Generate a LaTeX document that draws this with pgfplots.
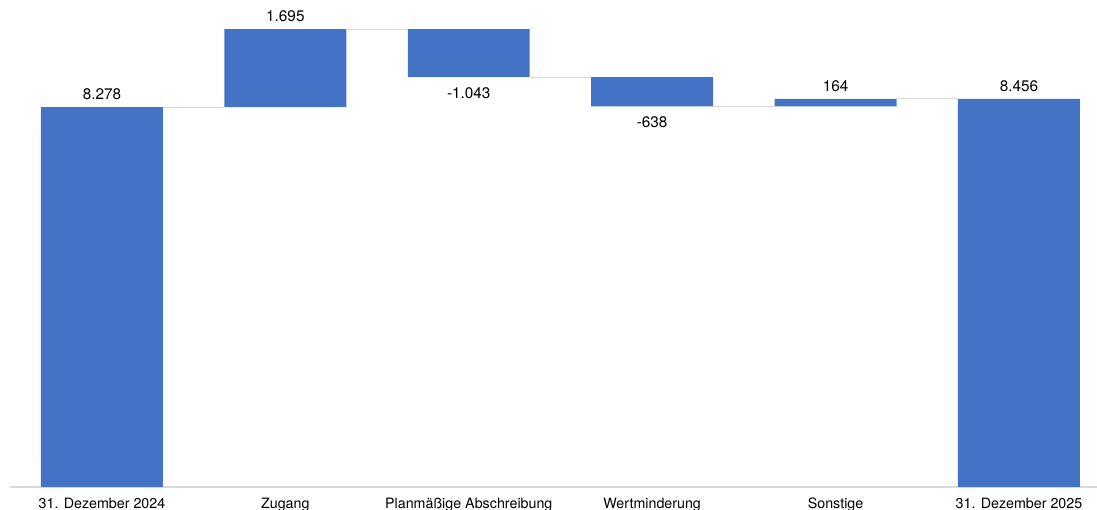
\documentclass[border=0pt]{standalone}
\usepackage{pgfplots}
\usepackage{pgfplotstable}
\pgfplotsset{compat=1.18}
\usepackage{fontspec}
\setmainfont{TeX Gyre Heros}

\definecolor{barblue}{HTML}{4472C4}
\definecolor{linegray}{HTML}{D9D9D9}

% waterfall: invisible base + visible step
\pgfplotstableread{
x base delta
0 0    8278
1 8278 1695
2 8930 1043
3 8292 638
4 8292 164
5 0    8456
}\bars

% running totals between neighbouring bars
\pgfplotstableread{
x y
0.3325 8278
0.6675 8278
nan nan
1.3325 9973
1.6675 9973
nan nan
2.3325 8930
2.6675 8930
nan nan
3.3325 8292
3.6675 8292
nan nan
4.3325 8456
4.6675 8456
}\connectors

% labels above the bar top
\pgfplotstableread{
x y lab
0 8278 8.278
1 9973 1.695
4 8456 164
5 8456 8.456
}\labup

% labels below the bar bottom
\pgfplotstableread{
x y lab
2 8930 -1.043
3 8292 -638
}\labdown

\begin{document}
\begin{tikzpicture}
\path[use as bounding box] (0,0) rectangle (822.75pt,382.5pt);
\begin{axis}[
  at={(7.7pt,17.25pt)}, anchor=south west,
  scale only axis,
  width=825.3pt, height=344.25pt,
  xmin=-0.5, xmax=5.5, ymin=0, ymax=10000,
  axis x line*=bottom, axis y line=none,
  x axis line style={-, draw=linegray, line width=0.8pt},
  major tick length=0pt,
  xtick={0,1,2,3,4,5},
  xticklabels={31. Dezember 2024, Zugang, Planmäßige Abschreibung, Wertminderung, Sonstige, 31. Dezember 2025},
  xticklabel style={anchor=base, yshift=-16.1pt, font=\fontsize{10.7}{12}\selectfont},
  ytick=\empty,
  clip=false,
  unbounded coords=jump,
]
\begin{scope}
\addplot[ybar stacked, bar width=0.665, draw=none, fill=none, forget plot] table[x=x, y=base] {\bars};
\addplot[ybar stacked, bar width=0.665, draw=none, fill=barblue, forget plot] table[x=x, y=delta] {\bars};
\end{scope}
\addplot[linegray, line width=0.7pt, mark=none] table[x=x, y=y] {\connectors};
\addplot[draw=none, mark=none, nodes near coords, point meta=explicit symbolic,
  every node near coord/.style={anchor=base, yshift=5.6pt, inner sep=0pt, text=black, font=\fontsize{11.5}{13}\selectfont}]
  table[x=x, y=y, meta=lab] {\labup};
\addplot[draw=none, mark=none, nodes near coords, point meta=explicit symbolic,
  every node near coord/.style={anchor=base, yshift=-16.1pt, inner sep=0pt, text=black, font=\fontsize{11.5}{13}\selectfont}]
  table[x=x, y=y, meta=lab] {\labdown};
\end{axis}
\end{tikzpicture}
\end{document}
